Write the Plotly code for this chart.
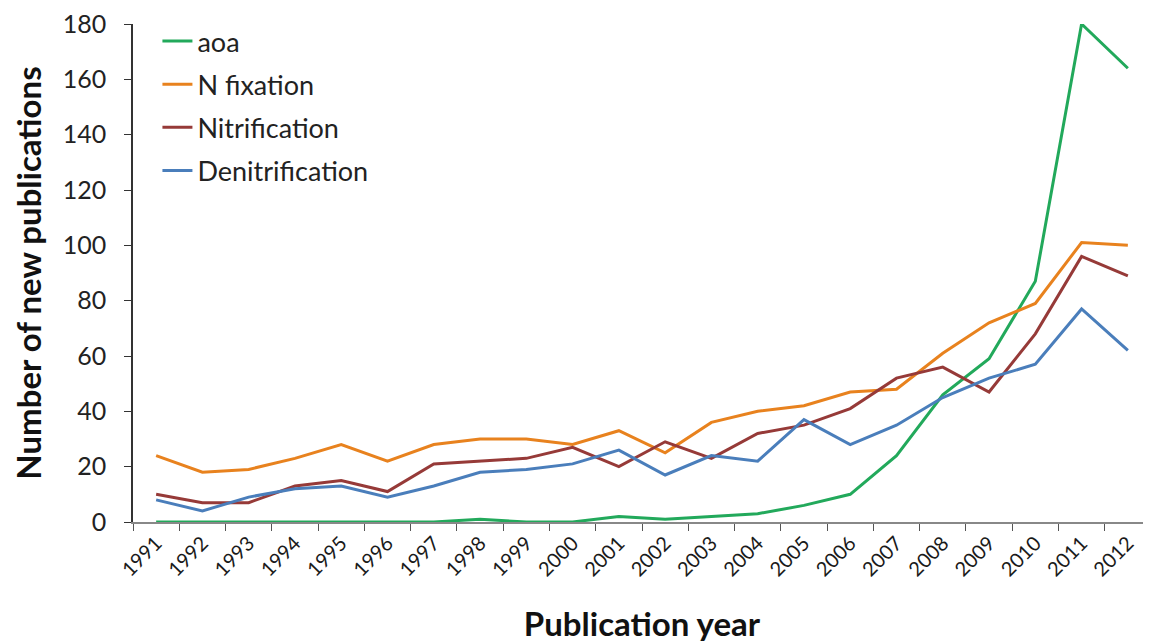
import plotly.graph_objects as go

years = [str(y) for y in range(1991, 2013)]
aoa = [0, 0, 0, 0, 0, 0, 0, 1, 0, 0, 2, 1, 2, 3, 6, 10, 24, 46, 59, 87, 180, 164]
n_fixation = [24, 18, 19, 23, 28, 22, 28, 30, 30, 28, 33, 25, 36, 40, 42, 47, 48, 61, 72, 79, 101, 100]
nitrification = [10, 7, 7, 13, 15, 11, 21, 22, 23, 27, 20, 29, 23, 32, 35, 41, 52, 56, 47, 68, 96, 89]
denitrification = [8, 4, 9, 12, 13, 9, 13, 18, 19, 21, 26, 17, 24, 22, 37, 28, 35, 45, 52, 57, 77, 62]

series = [
    ("aoa", aoa, "#22a95b"),
    ("N fixation", n_fixation, "#e8821e"),
    ("Nitrification", nitrification, "#963a38"),
    ("Denitrification", denitrification, "#4a7ebb"),
]

fig = go.Figure()
for name, vals, col in series:
    fig.add_trace(go.Scatter(x=years, y=vals, name=name, mode="lines", legendgroup=name,
                             line=dict(color=col, width=3)))

font_family = "Lato, Open Sans, sans-serif"
fig.update_layout(
    width=1143, height=636,
    margin=dict(l=125, r=0, t=14, b=122),
    plot_bgcolor="white", paper_bgcolor="white",
    font=dict(family=font_family, size=20, color="#222"),
    showlegend=True,
    legend=dict(x=0.024, y=1.014, xanchor="left", yanchor="top",
                font=dict(size=27, color="#222"), bgcolor="rgba(0,0,0,0)",
                tracegroupgap=5, itemwidth=30),
    xaxis=dict(type="category", tickson="boundaries", ticks="outside", ticklen=7,
               tickcolor="#555", showline=True, linecolor="#888", linewidth=1.5,
               tickangle=-45, showgrid=False, range=[-0.5, 21.5],
               tickfont=dict(size=20, color="#1a1a1a"),
               title=dict(text="<b>Publication year</b>", font=dict(size=33, color="#111"),
                          standoff=33)),
    yaxis=dict(range=[0, 180], dtick=20, ticks="outside", ticklen=7, tickcolor="#333",
               showline=True, linecolor="#333", linewidth=1.5, showgrid=False,
               zeroline=False, tickfont=dict(size=25), ticklabeloverflow="allow",
               ticklabelstandoff=13,
               title=dict(text="<b>Number of new publications</b>",
                          font=dict(size=33, color="#111"), standoff=17)),
)

fig.write_html("out.html")
